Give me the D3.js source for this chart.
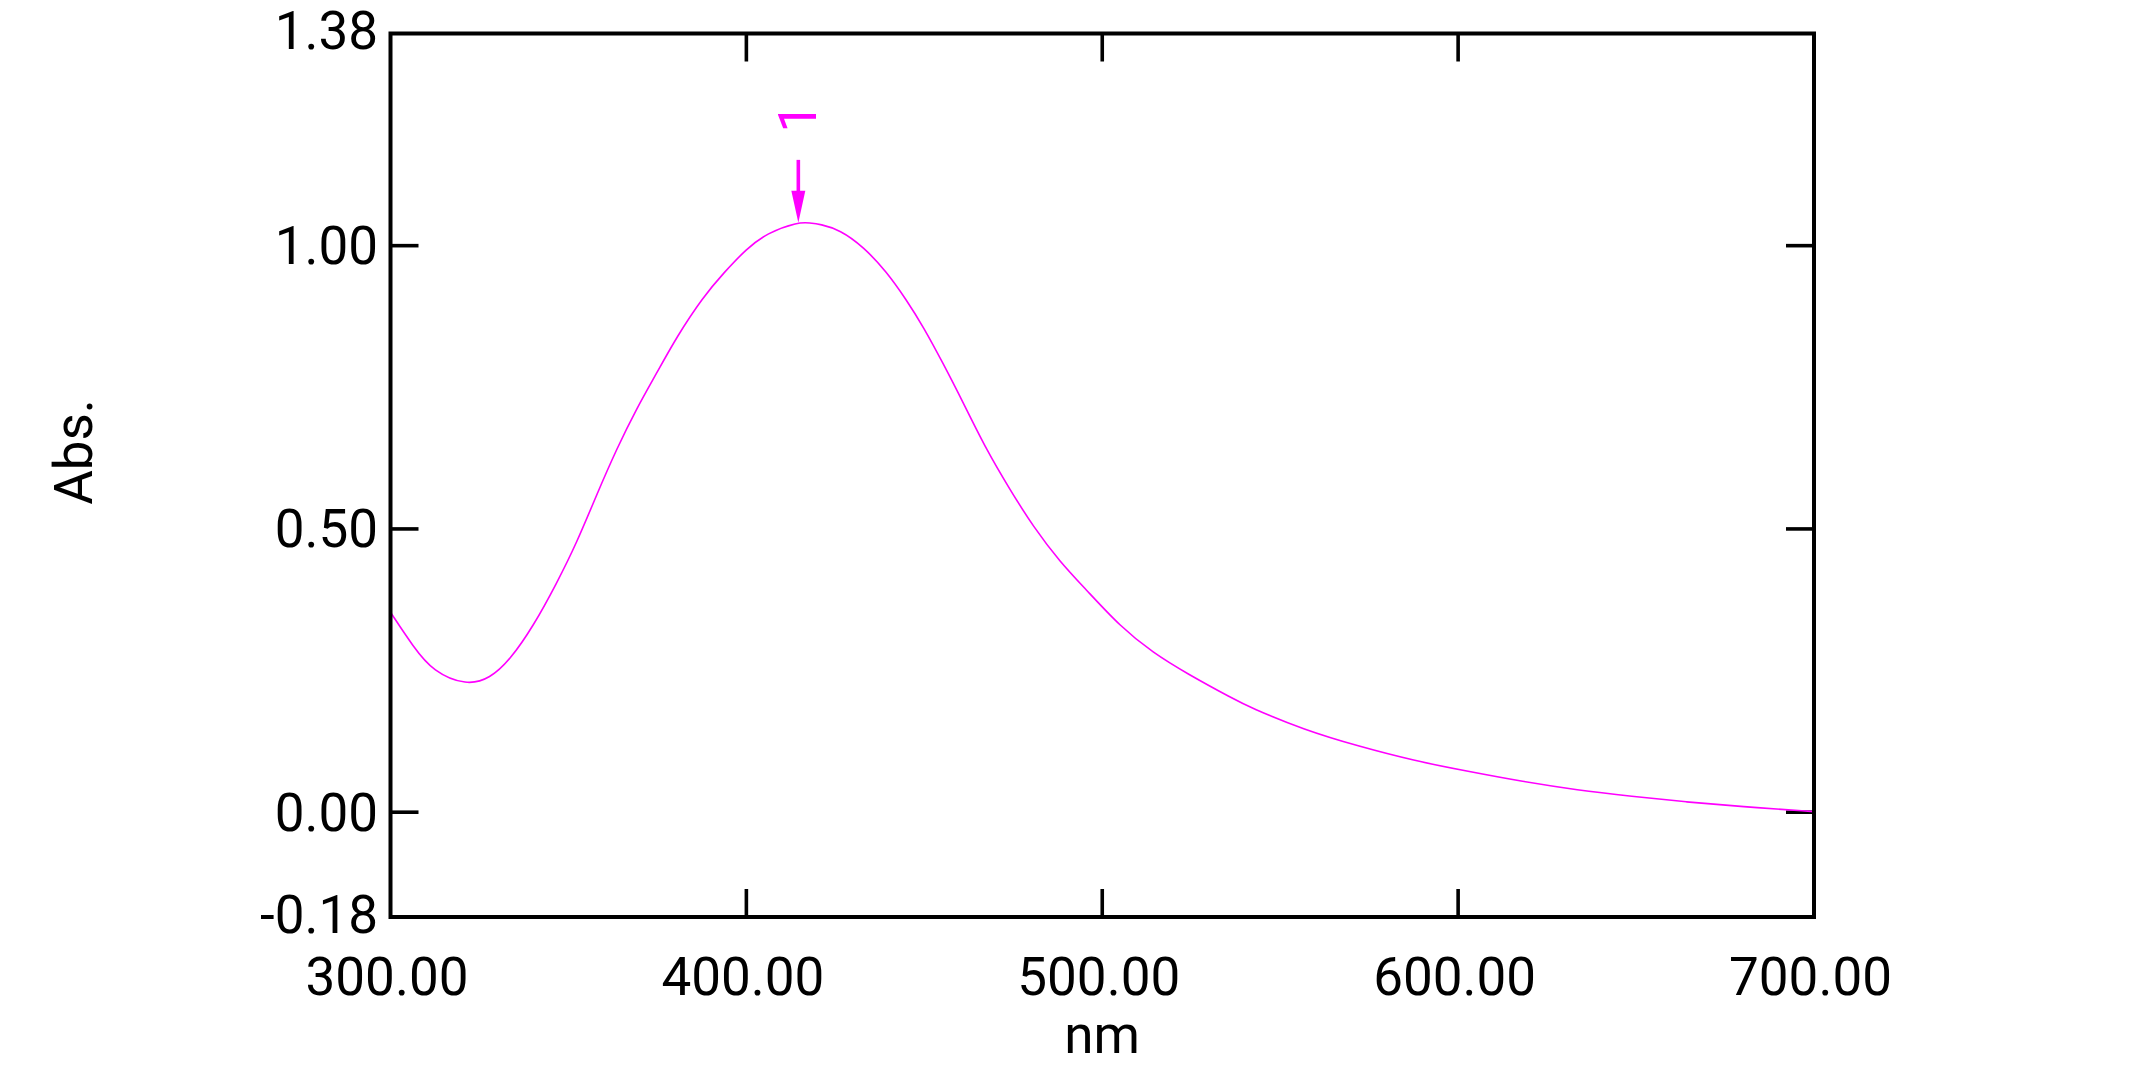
<!DOCTYPE html>
<html>
<head>
<meta charset="utf-8">
<script src="https://cdn.jsdelivr.net/npm/d3@7"></script>
<style>
  body { margin: 0; background: #fff; }
  svg { display: block; }
  /* Roboto: Arial-like widths and a "1" without a foot, as in the reference */
  text { font-family: Roboto, "Liberation Sans", Arial, sans-serif; fill: #000; }
</style>
</head>
<body>
<div id="chart"></div>
<script>
// spectrum (nm, Abs.)
var wavelengths = [300.0, 306.4, 312.0, 321.4, 328.0, 333.6, 340.1, 346.7, 352.3, 357.9, 363.6, 369.2,
    374.8, 380.4, 387.9, 393.5, 400.1, 405.7, 414.6, 417.9, 420.7, 426.3, 432.9, 439.4, 445.0,
    449.7, 455.3, 461.0, 467.5, 474.1, 480.6, 488.1, 495.6, 505.0, 514.3, 523.7, 536.8, 541.5,
    556.8, 572.2, 587.5, 602.8, 618.1, 633.5, 648.8, 664.1, 679.4, 700.0];
var absorbance = [0.353, 0.292, 0.248, 0.2235, 0.236, 0.269, 0.328, 0.404, 0.475, 0.560, 0.642, 0.713,
    0.775, 0.839, 0.910, 0.951, 0.995, 1.022, 1.042, 1.040, 1.038, 1.028, 0.998, 0.954, 0.904,
    0.857, 0.792, 0.722, 0.639, 0.569, 0.504, 0.442, 0.392, 0.328, 0.281, 0.245, 0.200, 0.185,
    0.145, 0.116, 0.091, 0.072, 0.054, 0.039, 0.028, 0.018, 0.010, 0.001];

var xTicks = [300, 400, 500, 600, 700];
var yTicks = [-0.18, 0.00, 0.50, 1.00, 1.38];
var innerXTicks = [400, 500, 600];
var innerYTicks = [0.00, 0.50, 1.00];

var peakWl = [414.6];
var peakAbs = [1.042];
var peakLabels = ["1"];

var W = 2142, H = 1082;
// plot frame (window.top is reserved, so no bare "top")
var frame = { l: 390.5, r: 1814, t: 33.5, b: 917 };
var fontSize = 53;
var magenta = "#ff00ff";

var x = d3.scaleLinear().domain([300, 700]).range([frame.l, frame.r]);
var y = d3.scaleLinear().domain([-0.185, 1.3745]).range([frame.b, frame.t]);

// plain hyphen for negatives, like the instrument software
var fmt = d => d3.format(".2f")(d).replace("\u2212", "-");

var svg = d3.select("#chart").append("svg")
    .attr("width", W)
    .attr("height", H);

svg.append("rect").attr("width", W).attr("height", H).attr("fill", "#fff");

// tick labels via axes, inner tick marks drawn separately
svg.append("g")
    .attr("transform", `translate(0,${frame.b})`)
    .call(d3.axisBottom(x).tickValues(xTicks).tickFormat(fmt).tickSize(0).tickPadding(40))
    .call(g => g.select(".domain").remove())
    .selectAll("text")
    .attr("font-size", fontSize)
    .attr("dx", -4)
    .attr("font-family", null);

svg.append("g")
    .attr("transform", `translate(${frame.l},0)`)
    .call(d3.axisLeft(y).tickValues(yTicks).tickFormat(fmt).tickSize(0).tickPadding(12.5))
    .call(g => g.select(".domain").remove())
    .selectAll("text")
    .attr("font-size", fontSize)
    .attr("dy", "0.34em")
    .attr("font-family", null);

var tickLen = 28;
var ticks = svg.append("g").attr("stroke", "#000").attr("stroke-width", 3.6);
ticks.append("g").selectAll("line").data(innerXTicks).join("line")
    .attr("x1", d => x(d)).attr("x2", d => x(d))
    .attr("y1", frame.b).attr("y2", frame.b - tickLen);
ticks.append("g").selectAll("line").data(innerXTicks).join("line")
    .attr("x1", d => x(d)).attr("x2", d => x(d))
    .attr("y1", frame.t).attr("y2", frame.t + tickLen);
ticks.append("g").selectAll("line").data(innerYTicks).join("line")
    .attr("x1", frame.l).attr("x2", frame.l + tickLen)
    .attr("y1", d => y(d)).attr("y2", d => y(d));
ticks.append("g").selectAll("line").data(innerYTicks).join("line")
    .attr("x1", frame.r).attr("x2", frame.r - tickLen)
    .attr("y1", d => y(d)).attr("y2", d => y(d));

// spectrum
var pts = wavelengths.map((w, i) => [w, absorbance[i]]);
svg.append("path")
    .datum(pts)
    .attr("fill", "none")
    .attr("stroke", magenta)
    .attr("stroke-width", 1.6)
    .attr("d", d3.line().x(d => x(d[0])).y(d => y(d[1])).curve(d3.curveBasis));

// frame
svg.append("rect")
    .attr("x", frame.l).attr("y", frame.t)
    .attr("width", frame.r - frame.l).attr("height", frame.b - frame.t)
    .attr("fill", "none")
    .attr("stroke", "#000")
    .attr("stroke-width", 4);

// peak marker
var peaks = svg.append("g").selectAll("g").data(peakWl).join("g")
    .attr("transform", (d, i) => `translate(${x(d)},${y(peakAbs[i]) + 1})`);
peaks.append("line")
    .attr("x1", 0).attr("x2", 0)
    .attr("y1", -63).attr("y2", -28)
    .attr("stroke", magenta).attr("stroke-width", 3.6);
peaks.append("path")
    .attr("d", "M-7,-32 L7,-32 L0,0 Z")
    .attr("fill", magenta);
peaks.append("text")
    .attr("transform", "translate(18,-90) rotate(-90)")
    .attr("font-size", fontSize)
    .style("fill", magenta)
    .text((d, i) => peakLabels[i]);

// axis titles
svg.append("text")
    .attr("x", 1102).attr("y", 1053)
    .attr("text-anchor", "middle")
    .attr("font-size", fontSize)
    .text("nm");

svg.append("text")
    .attr("transform", "translate(92,452) rotate(-90)")
    .attr("text-anchor", "middle")
    .attr("font-size", fontSize)
    .text("Abs.");
</script>
</body>
</html>
